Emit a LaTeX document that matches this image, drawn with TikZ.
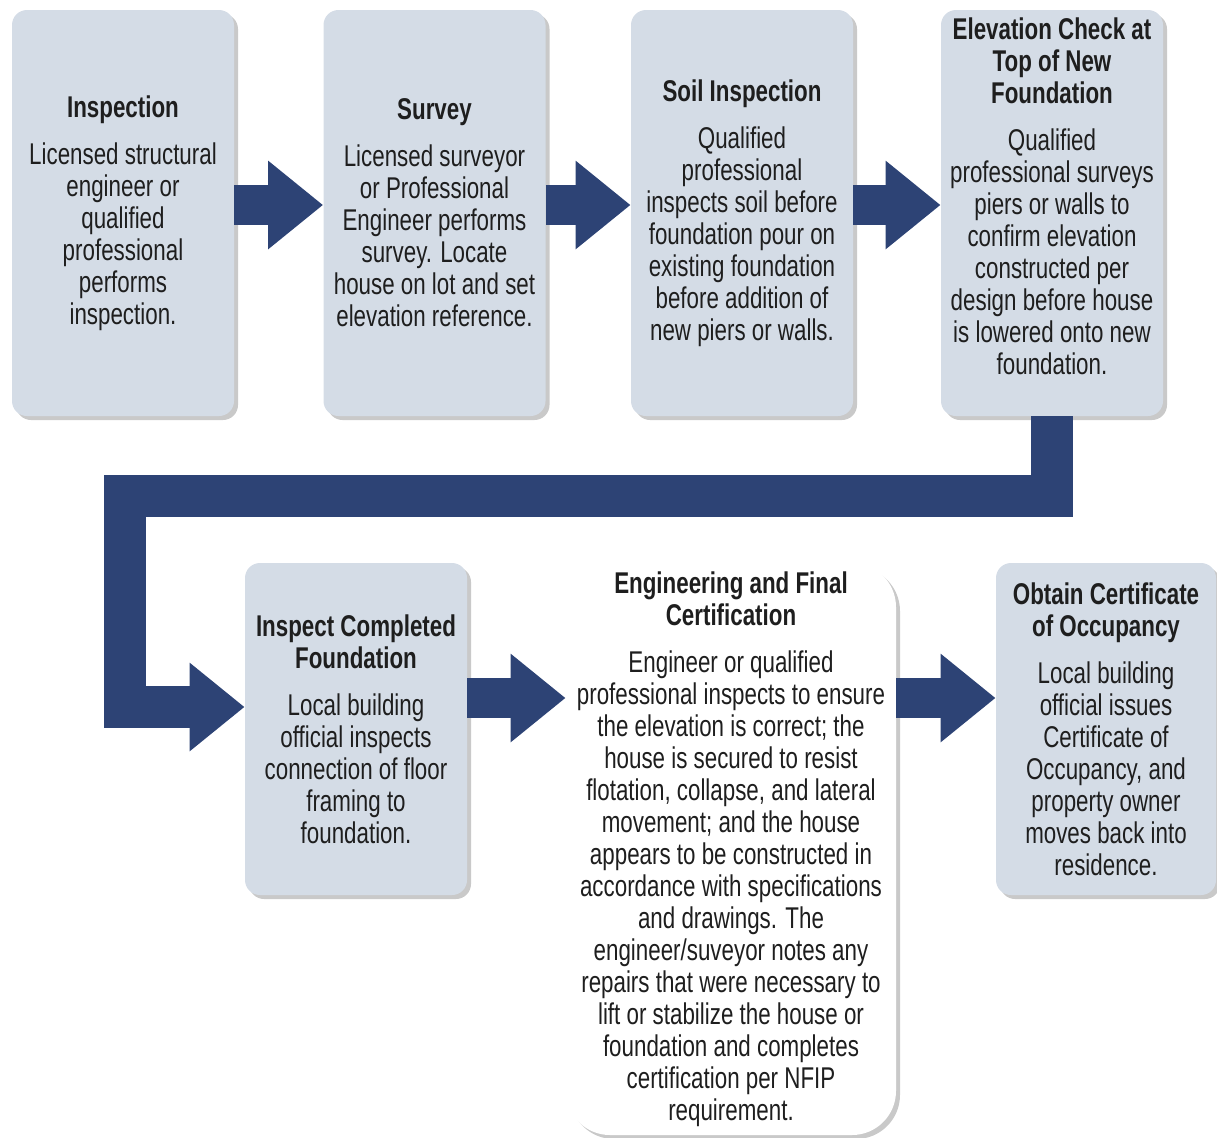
\documentclass[tikz,border=0pt]{standalone}
\usepackage{fontspec}
\setmainfont{Liberation Sans}[FakeStretch=0.745]
\usetikzlibrary{arrows.meta,shadows}
\definecolor{cardfill}{RGB}{212,220,230}
\definecolor{flownavy}{RGB}{45,67,117}
\definecolor{inktext}{RGB}{30,30,30}

\begin{document}
\begin{tikzpicture}[x=0.5pt,y=-0.5pt,
    cardtext/.style={align=center,inner sep=0pt,text=inktext,font=\fontsize{15}{16}\selectfont},
    card/.style={cardtext,shape=rectangle,rounded corners=7.5pt,fill=cardfill,
        minimum width=111pt,minimum height=203pt,
        drop shadow={shadow xshift=2pt,shadow yshift=-2pt,opacity=0.3,fill=black!70}},
    lowcard/.style={card,minimum height=166pt},
    bigcard/.style={card,fill=white,rounded corners=22pt,minimum width=165pt,minimum height=286pt},
    flow/.style={draw=flownavy,line width=20pt,line join=miter,
        -{Triangle[length=27.5pt,width=42.5pt]}}]
    \useasboundingbox (0,0) rectangle (1217,1137);
    % rows used by the connectors
    \coordinate (toprow) at (0,205);
    \coordinate (midrow) at (0,698);
    \coordinate (lowrow) at (0,707);
    \coordinate (bendL) at (125,496);

    % top row
    \node[card] (insp) at (123,213) {\textbf{Inspection}\\[7.5pt]
        Licensed structural\\engineer or\\qualified\\professional\\performs\\inspection.};
    \node[card] (surv) at (434.5,213) {\textbf{Survey}\\[7.5pt]
        Licensed surveyor\\or Professional\\Engineer performs\\survey. Locate\\house on lot and set\\elevation reference.};
    \node[card] (soil) at (742,213) {\textbf{Soil Inspection}\\[7.5pt]
        Qualified\\professional\\inspects soil before\\foundation pour on\\existing foundation\\before addition of\\new piers or walls.};
    \node[card] (elev) at (1052,213) {};
    \node[cardtext] (elevtext) at (1052,196) {\textbf{Elevation Check at}\\\textbf{Top of New}\\\textbf{Foundation}\\[7.5pt]
        Qualified\\professional surveys\\piers or walls to\\confirm elevation\\constructed per\\design before house\\is lowered onto new\\foundation.};

    % bottom row
    \node[lowcard] (compl) at (356,729) {\textbf{Inspect Completed}\\\textbf{Foundation}\\[7.5pt]
        Local building\\official inspects\\connection of floor\\framing to\\foundation.};
    \node[bigcard] (cert) at (731,849) {\textbf{Engineering and Final}\\\textbf{Certification}\\[7.5pt]
        Engineer or qualified\\professional inspects to ensure\\the elevation is correct; the\\house is secured to resist\\
        flotation, collapse, and lateral\\movement; and the house\\appears to be constructed in\\
        accordance with specifications\\and drawings. The\\engineer/suveyor notes any\\
        repairs that were necessary to\\lift or stabilize the house or\\foundation and completes\\
        certification per NFIP\\requirement.};
    \node[lowcard,minimum width=110pt] (occu) at (1106,729) {\textbf{Obtain Certificate}\\\textbf{of Occupancy}\\[7.5pt]
        Local building\\official issues\\Certificate of\\Occupancy, and\\property owner\\moves back into\\residence.};

    % connectors
    \draw[flow] (insp.east |- toprow) -- (surv.west |- toprow);
    \draw[flow] (surv.east |- toprow) -- (soil.west |- toprow);
    \draw[flow] (soil.east |- toprow) -- (elev.west |- toprow);
    \draw[flow,line width=21pt] (elev.south) |- (bendL) -- (bendL |- lowrow) -- (compl.west |- lowrow);
    \draw[flow] (compl.east |- midrow) -- (cert.west |- midrow);
    \draw[flow] (cert.east |- midrow) -- (occu.west |- midrow);
\end{tikzpicture}
\end{document}
